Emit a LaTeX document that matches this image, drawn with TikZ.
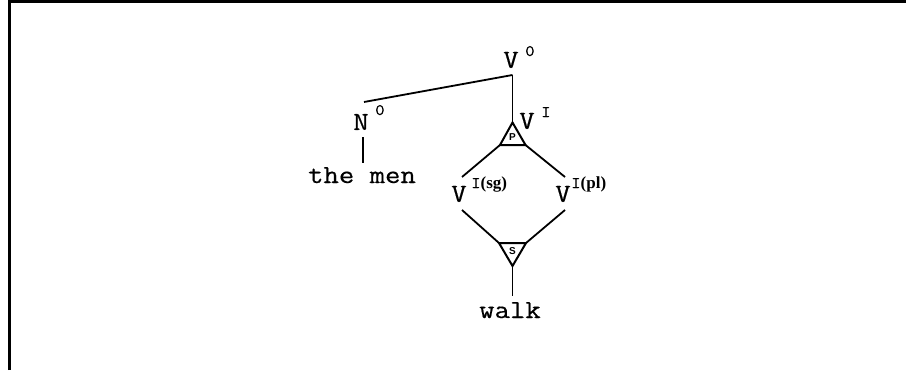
\documentclass[tikz,border=0pt]{standalone}
\usepackage{fontspec}
\setmainfont{Liberation Serif}
\setmonofont{Latin Modern Mono}[FakeStretch=1.15,FakeBold=0.5]
\setsansfont{Liberation Sans}
\begin{document}
\begin{tikzpicture}[x=1pt,y=-1pt,
  lbl/.style={font=\ttfamily\fontsize{26}{26}\selectfont, inner sep=0pt},
  supl/.style={font=\ttfamily\fontsize{16}{16}\selectfont, inner sep=0pt, anchor=base west},
  edge/.style={line width=1.8pt},
  tri/.style={line width=2pt, line join=miter},
  tlab/.style={font=\sffamily\bfseries\fontsize{10}{10}\selectfont, inner sep=0pt},
  frame/.style={line width=3pt}]
\useasboundingbox (0,0) rectangle (906,370);
% frame
\coordinate (fb) at (9,370);
\coordinate (ftl) at (9,1.5);
\coordinate (ftr) at (906,1.5);
\draw[frame] (fb) -- (ftl) -- (ftr);
% labels
\node[lbl] (v0) at (511,60) {V};
\node[supl] (v0s) at (525,56) {0};
\node[lbl] (n0) at (361,122) {N};
\node[supl] (n0s) at (375,115) {0};
\node[lbl] (vi) at (527,121) {V};
\node[supl] (vis) at (541,117) {I};
\node[lbl] (vsg) at (459,194) {V};
\node[supl] (vsgs) at (471,188) {I\rmfamily\bfseries\fontsize{17}{17}\selectfont(sg)};
\node[lbl] (vpl) at (563,194) {V};
\node[supl] (vpls) at (571,188) {I\rmfamily\bfseries\fontsize{17}{17}\selectfont(pl)};
\node[lbl,anchor=base] (men) at (362,183) {the men};
\node[lbl,anchor=base] (walk) at (510,318) {walk};
% connector ends
\coordinate (v0b) at (512.5,75);
\coordinate (n0t) at (364,102);
\coordinate (n0b) at (363,137);
\coordinate (ment) at (363,163);
\coordinate (sgt) at (462,177);
\coordinate (plt) at (565,177);
\coordinate (sgb) at (462,210);
\coordinate (plb) at (565,210);
\coordinate (walkt) at (512.5,296);
% triangle P
\coordinate (pa) at (512.5,122.5);
\coordinate (pl) at (500,145);
\coordinate (pr) at (525.5,145);
\draw[tri] (pa) -- (pl) -- (pr) -- cycle;
\node[tlab] (plab) at (512.5,137.5) {P};
% triangle S
\coordinate (sl) at (499,243);
\coordinate (sr) at (526,243);
\coordinate (sa) at (512.5,266);
\draw[tri] (sl) -- (sr) -- (sa) -- cycle;
\node[tlab] (slab) at (512.5,251) {S};
% edges
\draw[edge] (v0b) -- (n0t);
\draw[edge] (v0b) -- (pa);
\draw[edge] (n0b) -- (ment);
\draw[edge] (pl) -- (sgt);
\draw[edge] (pr) -- (plt);
\draw[edge] (sgb) -- (sl);
\draw[edge] (plb) -- (sr);
\draw[edge] (sa) -- (walkt);
\end{tikzpicture}
\end{document}
